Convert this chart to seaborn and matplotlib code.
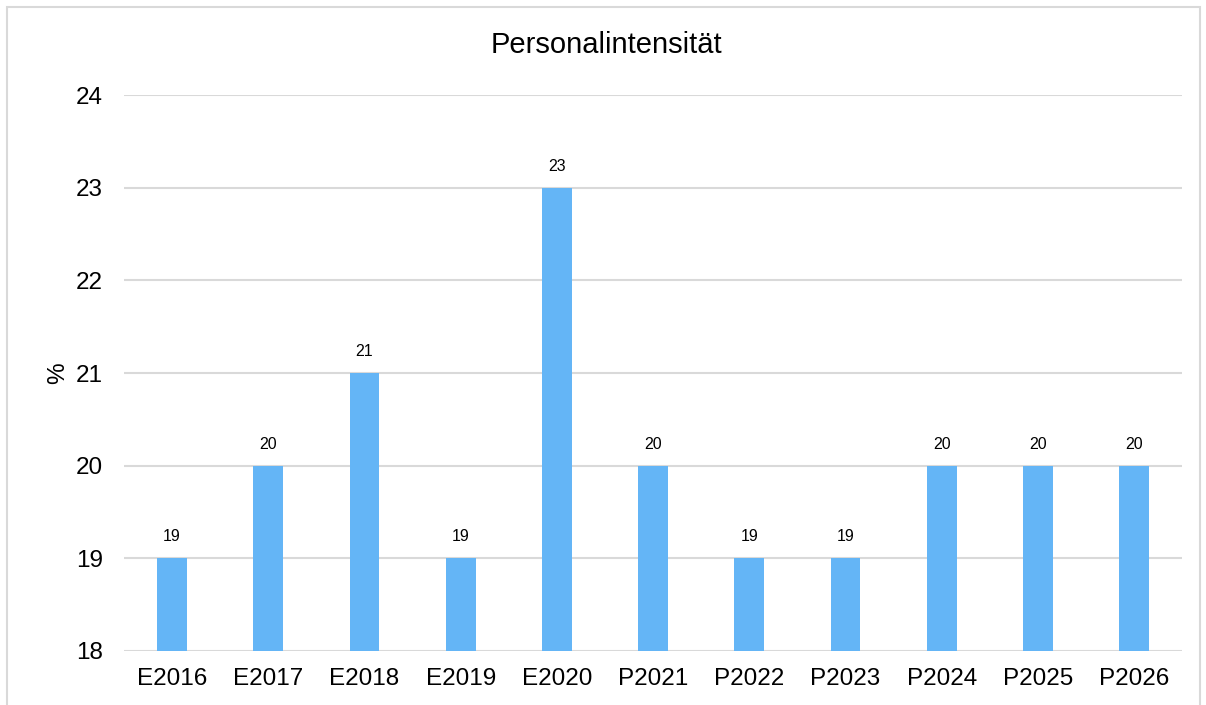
import matplotlib
matplotlib.use("Agg")
import matplotlib.pyplot as plt
from matplotlib.patches import Rectangle
import seaborn as sns
import pandas as pd

years = ['E2016', 'E2017', 'E2018', 'E2019', 'E2020', 'P2021',
         'P2022', 'P2023', 'P2024', 'P2025', 'P2026']
values = [19, 20, 21, 19, 23, 20, 19, 19, 20, 20, 20]

df = pd.DataFrame({'jahr': years, 'wert': values})

sns.set_theme(style="white")
plt.rcParams['font.family'] = ['Liberation Sans', 'DejaVu Sans']
plt.rcParams['text.color'] = 'black'
plt.rcParams['axes.labelcolor'] = 'black'
plt.rcParams['xtick.color'] = 'black'
plt.rcParams['ytick.color'] = 'black'

fig = plt.figure(figsize=(12.06, 7.05), dpi=100)
ax = fig.add_axes([0.1028, 0.0766, 0.8774, 0.7886])

sns.barplot(data=df, x='jahr', y='wert', color='#64B5F6', saturation=1,
            width=0.31, ax=ax, linewidth=0)
# bars start at 18, the axis floor
for p in ax.patches:
    h = p.get_height()
    p.set_y(18)
    p.set_height(h - 18)

ax.set_ylim(18, 24)
ax.set_xlim(-0.5, len(years) - 0.5)
ax.set_yticks(range(18, 25))
ax.yaxis.grid(True, color='#d9d9d9', linewidth=1.5)
ax.set_axisbelow(True)
for s in ax.spines.values():
    s.set_visible(False)
ax.tick_params(axis='y', length=0, pad=15, labelsize=17.5)
ax.tick_params(axis='x', length=0, pad=12, labelsize=17.5)
ax.set_xlabel('')
ax.set_ylabel('%', fontsize=17.5, labelpad=5)

for i, v in enumerate(values):
    ax.text(i, v + 0.15, f'{v}', ha='center', va='bottom', fontsize=11.5)

fig.text(0.503, 0.936, 'Personalintensität', ha='center', va='center', fontsize=21)

fig.patches.append(Rectangle((7 / 1206, -0.05), 1193 / 1206, 1.05 - 7 / 705,
                             transform=fig.transFigure, fill=False,
                             edgecolor='#d9d9d9', linewidth=1.5))

fig.savefig('out.png', dpi=100)
